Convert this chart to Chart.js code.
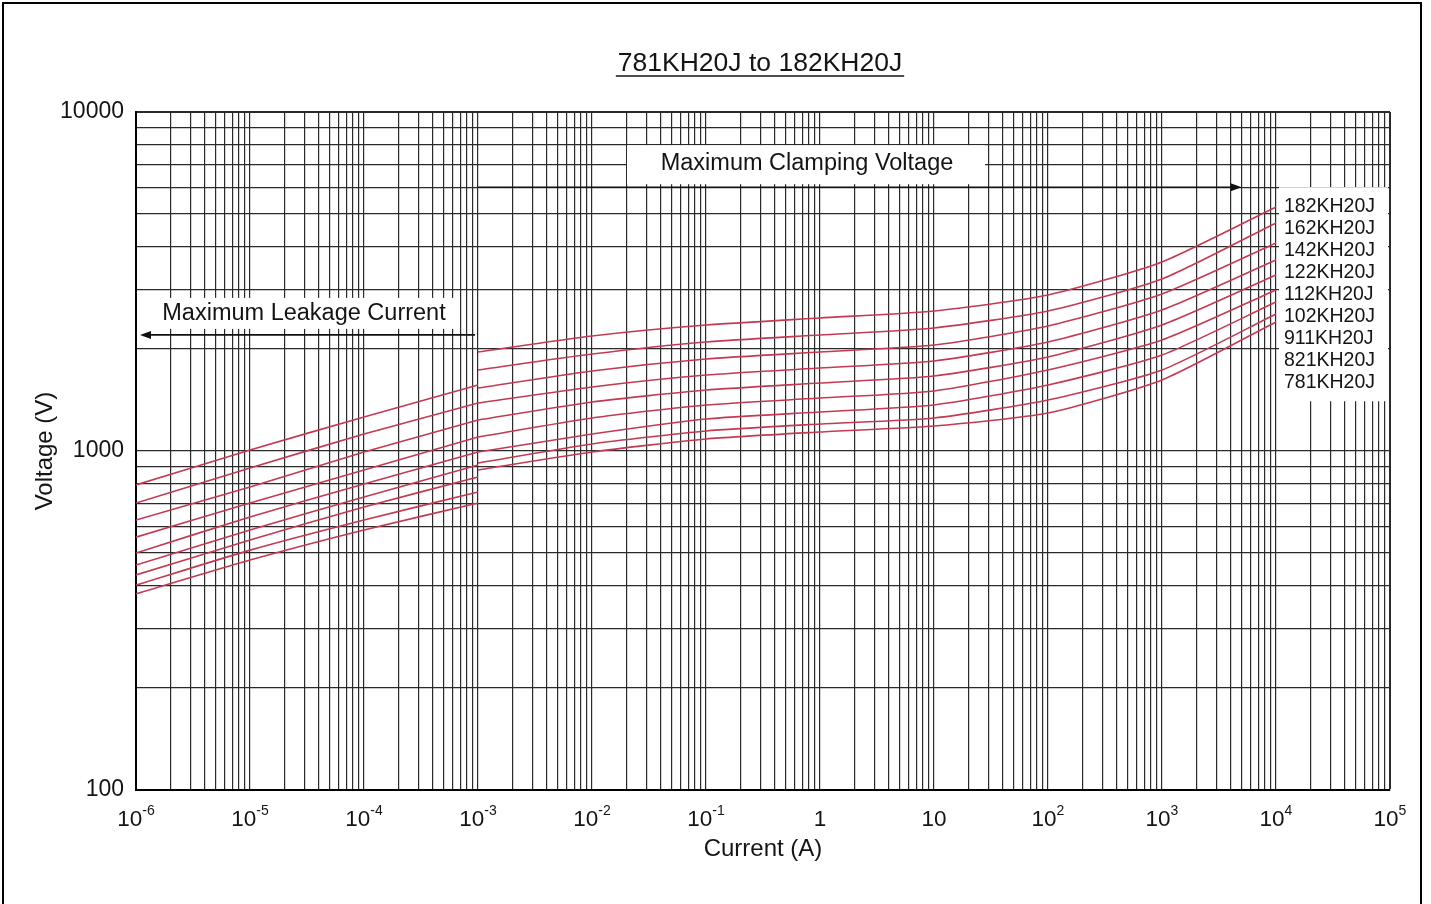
<!DOCTYPE html>
<html>
<head>
<meta charset="utf-8">
<script src="https://cdn.jsdelivr.net/npm/chart.js@4.4.1/dist/chart.umd.min.js"></script>
<style>
  html, body { margin: 0; padding: 0; background: #fff; overflow: hidden; }
  #frame { position: absolute; left: 2px; top: 2px; width: 1416px; height: 960px; border: 2px solid #000; }
  #wrap { position: absolute; left: 0; top: 0; width: 1431px; height: 904px; }
</style>
</head>
<body>
<div id="frame"></div>
<div id="wrap"><canvas id="vChart" width="1431" height="904"></canvas></div>
<script>
// current (A) sample points for the two regions
const currentLeak = [1e-6, 1e-5, 1e-4, 1e-3];
const currentClamp = [1e-3, 1e-2, 1e-1, 1, 10, 100, 1e3, 1e4];

const models = ['182KH20J', '162KH20J', '142KH20J', '122KH20J', '112KH20J',
                '102KH20J', '911KH20J', '821KH20J', '781KH20J'];

// maximum leakage current region (V), one row per model
const leakVolts = [
    [794, 1007, 1260, 1566],
    [702, 891, 1122, 1385],
    [626, 783, 993, 1234],
    [557, 702, 879, 1100],
    [500, 639, 799, 993],
    [461, 585, 732, 909],
    [431, 546, 684, 838],
    [402, 510, 626, 757],
    [379, 477, 585, 702]
];

// maximum clamping voltage region (V)
const clampVolts = [
    [1959, 2184, 2353, 2468, 2588, 2885, 3611, 5245],
    [1734, 1932, 2097, 2199, 2306, 2588, 3216, 4706],
    [1534, 1722, 1868, 1959, 2054, 2337, 2905, 4108],
    [1385, 1545, 1676, 1757, 1843, 2097, 2606, 3660],
    [1234, 1395, 1513, 1587, 1664, 1894, 2353, 3305],
    [1100, 1251, 1367, 1433, 1503, 1734, 2125, 2985],
    [993, 1122, 1243, 1303, 1367, 1566, 1919, 2751],
    [922, 1049, 1146, 1201, 1251, 1414, 1734, 2536],
    [879, 993, 1085, 1138, 1185, 1295, 1620, 2402]
];

const xDecades = [1e-6, 1e-5, 1e-4, 1e-3, 1e-2, 1e-1, 1, 10, 100, 1e3, 1e4, 1e5];
const yTickLabels = [100, 1000, 10000];

const LINE = '#c43a52';
const GRID = '#2a2a2a';
const TEXT = '#141414';
const FONT = '"Liberation Sans", Arial, sans-serif';

// grid positions 1..9 x 10^n
const xGrid = [];
for (let i = 0; i < xDecades.length - 1; i++) {
    for (let m = 1; m <= 9; m++) xGrid.push(m * xDecades[i]);
}
xGrid.push(xDecades[xDecades.length - 1]);
const yGrid = [];
[100, 1000].forEach(d => { for (let m = 1; m <= 9; m++) yGrid.push(m * d); });
yGrid.push(10000);

const datasets = models.map((name, i) => ({
    label: name,
    data: currentLeak.map((x, j) => ({ x, y: leakVolts[i][j] }))
        .concat([{ x: 1e-3, y: null }])
        .concat(currentClamp.map((x, j) => ({ x, y: clampVolts[i][j] }))),
    borderColor: LINE,
    borderWidth: 1.6,
    pointRadius: 0,
    tension: 0.2,
    spanGaps: false
}));

function arrow(ctx, x1, x2, y) {
    const dir = Math.sign(x2 - x1);
    ctx.beginPath();
    ctx.moveTo(x1, y);
    ctx.lineTo(x2 - dir * 6, y);
    ctx.stroke();
    ctx.beginPath();
    ctx.moveTo(x2, y);
    ctx.lineTo(x2 - dir * 11, y - 4);
    ctx.lineTo(x2 - dir * 11, y + 4);
    ctx.closePath();
    ctx.fill();
}

const annotate = {
    id: 'annotate',
    beforeDatasetsDraw(chart) {
        const ctx = chart.ctx;
        const xs = chart.scales.x, ys = chart.scales.y;
        const x4 = xs.getPixelForValue(1e4);
        const yClamp = ys.getPixelForValue(6000);
        const yLeak = ys.getPixelForValue(2200);
        ctx.save();
        ctx.fillStyle = '#fff';
        // label backgrounds
        ctx.fillRect(627, yClamp - 42, 358, 39);
        ctx.fillRect(150, yLeak - 37, 310, 31);
        ctx.fillRect(x4 + 3, yClamp, chart.chartArea.right - x4 - 5, 214);
        ctx.restore();
    },
    afterDatasetsDraw(chart) {
        const ctx = chart.ctx;
        const xs = chart.scales.x, ys = chart.scales.y;
        const x3 = xs.getPixelForValue(1e-3);
        const x4 = xs.getPixelForValue(1e4);
        const yClamp = ys.getPixelForValue(6000);
        const yLeak = ys.getPixelForValue(2200);
        ctx.save();
        ctx.strokeStyle = '#111';
        ctx.fillStyle = '#111';
        ctx.lineWidth = 1.6;
        arrow(ctx, x3, xs.getPixelForValue(5e3), yClamp);
        arrow(ctx, x3 - 3, chart.chartArea.left + 4, yLeak);

        ctx.fillStyle = TEXT;
        ctx.textBaseline = 'middle';
        ctx.textAlign = 'center';
        ctx.font = '23.5px ' + FONT;
        ctx.fillText('Maximum Clamping Voltage', 807, yClamp - 24);
        ctx.fillText('Maximum Leakage Current', 304, yLeak - 21);

        // series names at the right
        ctx.textAlign = 'left';
        ctx.font = '19.5px ' + FONT;
        models.forEach((name, i) => {
            ctx.fillText(name, x4 + 8, 207 + i * 21.9);
        });

        // x tick labels with exponents
        ctx.textBaseline = 'alphabetic';
        xDecades.forEach(v => {
            const e = Math.round(Math.log10(v));
            const px = xs.getPixelForValue(v);
            const base = e === 0 ? '1' : '10';
            const sup = (e === 0 || e === 1) ? '' : String(e);
            ctx.font = '22.5px ' + FONT;
            const wb = ctx.measureText(base).width;
            ctx.font = '14px ' + FONT;
            const ws = sup ? ctx.measureText(sup).width : 0;
            const start = px - (wb + ws) / 2;
            ctx.textAlign = 'left';
            ctx.font = '22.5px ' + FONT;
            ctx.fillText(base, start, 826);
            if (sup) {
                ctx.font = '14px ' + FONT;
                ctx.fillText(sup, start + wb, 815);
            }
        });

        // chart title, underlined
        ctx.font = '26.5px ' + FONT;
        ctx.textAlign = 'center';
        const title = '781KH20J to 182KH20J';
        const tw = ctx.measureText(title).width;
        const cx = (chart.chartArea.left + chart.chartArea.right) / 2 - 3;
        ctx.fillText(title, cx, 71);
        ctx.lineWidth = 1.6;
        ctx.strokeStyle = TEXT;
        ctx.beginPath();
        ctx.moveTo(cx - tw / 2 - 2, 76);
        ctx.lineTo(cx + tw / 2 + 2, 76);
        ctx.stroke();
        ctx.restore();
    }
};

const ctx = document.getElementById('vChart').getContext('2d');
const vChart = new Chart(ctx, {
    type: 'line',
    data: { datasets },
    options: {
        responsive: false,
        animation: false,
        devicePixelRatio: 1,
        layout: { padding: { top: 112, right: 41, left: 0, bottom: 0 } },
        plugins: {
            legend: { display: false },
            tooltip: { enabled: false }
        },
        scales: {
            x: {
                type: 'logarithmic',
                min: 1e-6,
                max: 1e5,
                afterBuildTicks: s => { s.ticks = xGrid.map(v => ({ value: v })); },
                afterFit: s => { s.height = 114; },
                ticks: { display: false, autoSkip: false },
                grid: {
                    color: GRID,
                    lineWidth: c => (c.tick && c.tick.value === 1e5 ? 2 : 1.2),
                    drawTicks: false
                },
                border: { display: true, color: '#000', width: 2 },
                title: {
                    display: true,
                    text: 'Current (A)',
                    color: TEXT,
                    font: { family: FONT, size: 24 },
                    padding: { top: 0, bottom: 40 }
                }
            },
            y: {
                type: 'logarithmic',
                min: 100,
                max: 10000,
                afterBuildTicks: s => { s.ticks = yGrid.map(v => ({ value: v })); },
                afterFit: s => { s.width = 136; },
                ticks: {
                    autoSkip: false,
                    padding: 12,
                    color: TEXT,
                    font: { family: FONT, size: 23 },
                    callback: v => (yTickLabels.includes(v) ? String(v) : '')
                },
                grid: {
                    color: GRID,
                    lineWidth: c => (c.tick && c.tick.value === 10000 ? 2 : 1.2),
                    drawTicks: false
                },
                border: { display: true, color: '#000', width: 2 },
                title: {
                    display: true,
                    text: 'Voltage (V)',
                    color: TEXT,
                    font: { family: FONT, size: 24 },
                    padding: { top: 31, bottom: 0 }
                }
            }
        }
    },
    plugins: [annotate]
});
</script>
</body>
</html>
